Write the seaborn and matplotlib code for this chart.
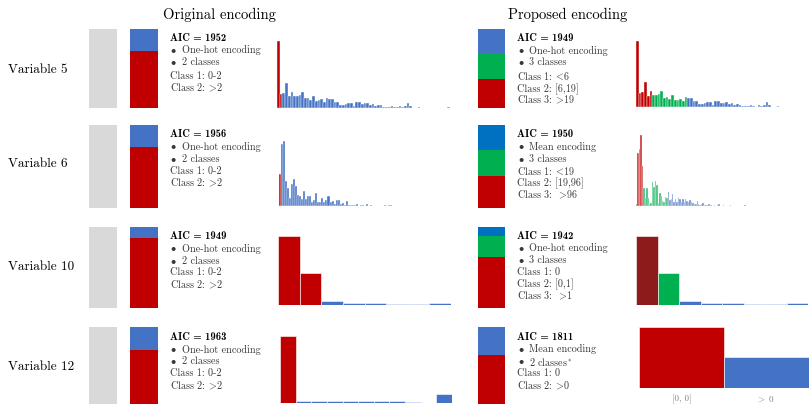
import matplotlib
matplotlib.use('Agg')
import matplotlib.pyplot as plt
import seaborn as sns
import numpy as np
import pandas as pd

sns.set_theme(style='white')
plt.rcParams['font.family'] = ['cmr10', 'DejaVu Serif']
plt.rcParams['mathtext.fontset'] = 'cm'
plt.rcParams['axes.formatter.use_mathtext'] = True

# ---------------- data ----------------
GT = r'$\!>\!$'
LT = r'$\!<\!$'
variables = ['Variable 5', 'Variable 6', 'Variable 10', 'Variable 12']
aic_original = [1952, 1956, 1949, 1963]
aic_proposed = [1949, 1950, 1942, 1811]

orig_lines = [
    ['One-hot encoding', '2 classes', 'Class 1: 0-2', 'Class 2: ' + GT + '2'],
    ['One-hot encoding', '2 classes', 'Class 1: 0-2', 'Class 2: ' + GT + '2'],
    ['One-hot encoding', '2 classes', 'Class 1: 0-2', 'Class 2: ' + GT + '2'],
    ['One-hot encoding', '2 classes', 'Class 1: 0-2', 'Class 2: ' + GT + '2'],
]
prop_lines = [
    ['One-hot encoding', '3 classes', 'Class 1: ' + LT + '6', 'Class 2: [6,19]', 'Class 3: ' + GT + '19'],
    ['Mean encoding', '3 classes', 'Class 1: ' + LT + '19', 'Class 2: [19,96]', 'Class 3:  ' + GT + '96'],
    ['One-hot encoding', '3 classes', 'Class 1: 0', 'Class 2: [0,1]', 'Class 3:  ' + GT + '1'],
    ['Mean encoding', '2 classes$^*$', 'Class 1: 0', 'Class 2: ' + GT + '0'],
]

# class shares in the stacked bars (bottom class first)
orig_shares = [[0.723, 0.277], [0.735, 0.265], [0.864, 0.136], [0.70, 0.30]]
prop_shares = [[0.362, 0.332, 0.306], [0.386, 0.313, 0.301], [0.63, 0.26, 0.11], [0.636, 0.364]]

# histogram counts
v5_counts = [199, 41, 45, 74, 34, 47, 35, 35, 38, 47, 28, 30, 24, 36, 20, 22, 25, 18, 30,
             27, 27, 17, 17, 9, 9, 12, 14, 14, 6, 18, 17, 12, 13, 15, 9, 12, 6, 9, 7, 3,
             3, 2, 5, 2, 1, 5, 3, 6, 15, 5, 0, 0, 2, 0, 0, 0, 0, 0, 0, 0, 0, 0, 0, 1]
v6_counts_orig = [97, 187, 196, 76, 54, 24, 68, 82, 61, 35, 30, 22, 45, 22, 30, 31, 12, 18,
                  39, 13, 14, 24, 13, 18, 30, 14, 15, 7, 18, 18, 8, 10, 4, 15, 4, 3, 5, 3,
                  6, 2, 4, 3, 2, 6, 1, 3, 2, 0, 1, 0, 0, 0, 3, 0, 4, 3, 0, 0, 0, 0, 0, 0,
                  0, 1, 1, 1, 1, 1, 0, 0, 0, 0, 0, 0, 0, 1, 0, 0, 0, 0, 0, 0, 0, 0, 0, 1]
v6_counts_prop = [8, 161, 172, 214, 121,
                  54, 24, 54, 26, 8, 10, 72, 59, 76, 64, 10, 41, 30, 17, 14, 28, 25,
                  42, 18, 22, 36, 14, 22, 12, 25, 22, 12, 22, 12, 21, 17, 14, 20, 13, 11,
                  6, 8, 16, 6, 5, 6, 10, 4, 3, 4, 7, 3, 4, 2, 5, 2, 3, 6, 1, 0, 3, 2, 0,
                  1, 0, 4, 0, 0, 2, 0, 0, 0, 1, 0, 0, 3, 0, 0, 0, 0, 0, 0, 0, 0, 0, 0, 0,
                  0, 0, 0, 0, 0, 0, 0, 0, 0, 0, 0, 0, 0, 0, 0, 1, 0, 0, 0, 1, 0, 1, 0, 0,
                  0, 0, 0, 0, 0, 0, 0, 0, 1]
v10_counts = [70, 32, 4, 2.2, 2.2, 1.8, 1.8, 2.8]
v12_counts_orig = [67, 2.2, 2.2, 2.2, 2.2, 2.2, 2.2, 2.2, 1.6, 0, 9]
v12_counts_prop = [61, 31]
v12_prop_ticks = ['[0, 0]', r'$\!>$ 0']

# number of bins in each class (class 1, class 2, ...)
orig_bins = [[2, 62], [1, 85], [2, 6], [1, 10]]
prop_bins = [[6, 13, 45], [5, 17, 100], [1, 1, 6], [1, 1]]

# ---------------- style ----------------
RED = '#c00000'; BLUE = '#4472c4'; GREEN = '#00b050'
DKRED = '#8e1b1b'; DKBLUE = '#0070c0'; GRAY = '#d9d9d9'
TXT = '#383838'

W, H = 809, 404
fig = plt.figure(figsize=(W / 100, H / 100), dpi=100)


def add_ax(x0, y0, x1, y1):
    ax = fig.add_axes([x0 / W, 1 - y1 / H, (x1 - x0) / W, (y1 - y0) / H])
    ax.set_facecolor('none')
    return ax


def stack(rect, shares, colors):
    ax = add_ax(*rect)
    cum = np.cumsum(shares)
    for c, col in reversed(list(zip(cum, colors))):
        sns.barplot(x=[0], y=[c], color=col, width=1, saturation=1, ax=ax,
                    linewidth=0, edgecolor=col)
    ax.set_xlim(-0.5, 0.5)
    ax.set_ylim(0, 1)
    ax.axis('off')


def hist(rect, vals, bins, colors, alpha=1.0, lw=0.4, ticks=None):
    ax = add_ax(*rect)
    cls = []
    for k, n in enumerate(bins):
        cls += [f'c{k}'] * n
    vals = list(vals)
    cls = (cls + [cls[-1]] * len(vals))[:len(vals)]
    df = pd.DataFrame({'bin': np.arange(len(vals)), 'count': vals, 'cls': cls})
    pal = {f'c{k}': colors[k] for k in range(len(bins))}
    sns.barplot(data=df, x='bin', y='count', hue='cls', palette=pal, dodge=False,
                width=1, saturation=1, legend=False, ax=ax, edgecolor='white',
                linewidth=lw, alpha=alpha)
    ax.set_xlim(-0.5, len(vals) - 0.5)
    ax.set_ylim(0, max(vals))
    for s in ax.spines.values():
        s.set_visible(False)
    ax.set_xlabel('')
    ax.set_ylabel('')
    ax.set_yticks([])
    if ticks is None:
        ax.set_xticks([])
    else:
        ax.set_xticks(range(len(ticks)))
        ax.set_xticklabels(ticks, fontsize=6.5, color='#808080')
        ax.tick_params(axis='x', length=0, pad=5)
    return ax


def T(x, y, s, **kw):
    fig.text(x / W, 1 - y / H, s, **kw)


rows = [(29.3, 107.7), (125, 208), (227, 308), (327, 404)]
label_y = [70, 164, 267, 367]

hist_orig_rects = [(277, 40.7, 450, 107.7), (279.3, 141, 452, 206.3),
                   (278, 235.7, 451, 305.3), (280, 335.7, 452, 403.3)]
hist_prop_rects = [(636, 40.7, 809, 107), (636, 135, 809, 206.3),
                   (636, 235.7, 808, 305.3), (639, 327.3, 809, 387.7)]
orig_data = [v5_counts, v6_counts_orig, v10_counts, v12_counts_orig]
prop_data = [v5_counts, v6_counts_prop, v10_counts, v12_counts_prop]
prop_hist_colors = [[RED, GREEN, BLUE], [RED, GREEN, BLUE], [DKRED, GREEN, BLUE], [RED, BLUE]]
prop_stack_colors = [[RED, GREEN, BLUE], [RED, GREEN, DKBLUE], [RED, GREEN, DKBLUE], [RED, BLUE]]
prop_alpha = [1.0, 0.8, 1.0, 1.0]

T(219.5, 14.5, 'Original encoding', fontsize=10.5, ha='center', va='center', color='black')
T(568, 14.5, 'Proposed encoding', fontsize=10.5, ha='center', va='center', color='black')

orig_text_y = [[37.7, 50.3, 62.3, 76, 88.3], [134, 146.7, 159.3, 171, 183.3],
               [235.7, 248.7, 261, 272.7, 285], [337.3, 349.7, 361.3, 373.7, 385.7]]
prop_text_y = [[37.7, 50.5, 62.5, 76.5, 89, 100.3], [134.3, 146.7, 159.3, 171, 183, 195],
               [235.7, 248.3, 260.7, 272.3, 284.3, 296.3], [337.3, 349.3, 361.7, 373.7, 385.7]]

for i in range(4):
    y0, y1 = rows[i]
    T(8, label_y[i], variables[i], fontsize=9.5, ha='left', va='center', color='black')
    stack((89.3, y0, 116.7, y1), [1.0], [GRAY])
    stack((130, y0, 158, y1), orig_shares[i], [RED, BLUE])
    stack((477.7, y0, 505.3, y1), prop_shares[i], prop_stack_colors[i])

    # text blocks
    ys = orig_text_y[i]
    T(170, ys[0], f'AIC = {aic_original[i]}', family='cmb10', fontsize=7.6,
      ha='left', va='center', color='black')
    for j, line in enumerate(orig_lines[i]):
        if j < 2:
            T(170.5, ys[j + 1], r'$\bullet$', fontsize=7.5, ha='left', va='center', color=TXT)
            T(182, ys[j + 1], line, fontsize=7.3, ha='left', va='center', color=TXT)
        else:
            T(170, ys[j + 1], line, fontsize=7.3, ha='left', va='center', color=TXT)

    ys = prop_text_y[i]
    T(517, ys[0], f'AIC = {aic_proposed[i]}', family='cmb10', fontsize=7.6,
      ha='left', va='center', color='black')
    for j, line in enumerate(prop_lines[i]):
        if j < 2:
            T(517.5, ys[j + 1], r'$\bullet$', fontsize=7.5, ha='left', va='center', color=TXT)
            T(529.3, ys[j + 1], line, fontsize=7.3, ha='left', va='center', color=TXT)
        else:
            T(517, ys[j + 1], line, fontsize=7.3, ha='left', va='center', color=TXT)

    hist(hist_orig_rects[i], orig_data[i], orig_bins[i], [RED, BLUE],
         lw=0.3 if i < 2 else 0.4)
    hist(hist_prop_rects[i], prop_data[i], prop_bins[i], prop_hist_colors[i],
         alpha=prop_alpha[i], lw=0.3 if i < 2 else 0.4,
         ticks=v12_prop_ticks if i == 3 else None)

fig.savefig('out.png', dpi=100)
